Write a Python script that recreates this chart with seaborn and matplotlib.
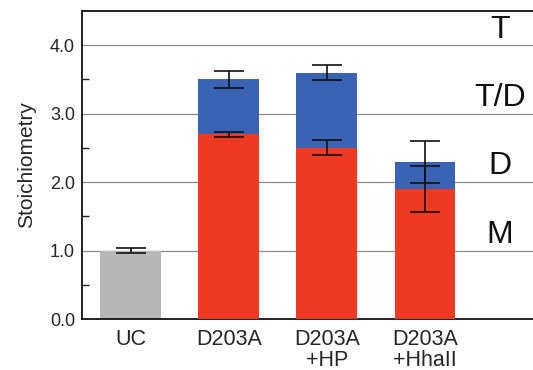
import numpy as np
import pandas as pd
import matplotlib
matplotlib.use("Agg")
import matplotlib.pyplot as plt
import seaborn as sns

# values
CATEGORIES   = ["UC", "D203A", "D203A\n+HP", "D203A\n+HhaII"]
TOTAL        = [1.00, 3.50, 3.60, 2.29]     # top of stacked bar (blue / grey)
TOTAL_ERR    = [0.04, 0.12, 0.11, 0.31]
LOWER        = [np.nan, 2.70, 2.50, 1.90]   # red part
LOWER_ERR    = [np.nan, 0.035, 0.11, 0.33]
STATE_LABELS = ["M", "D", "T/D", "T"]
STATE_LEVELS = [1.0, 2.0, 3.0, 4.0]

GREY = "#b7b7b7"
RED  = "#ee3a22"
BLUE = "#3a63b3"

sns.set_theme(style="white")
plt.rcParams["font.family"] = ["Liberation Sans", "DejaVu Sans"]

df = pd.DataFrame({"cat": CATEGORIES, "total": TOTAL, "lower": LOWER})

fig = plt.figure(figsize=(5.33, 3.70), dpi=100)
ax = fig.add_axes([82 / 533, 51 / 370, 451 / 533, 308 / 370])

for y in STATE_LEVELS:
    ax.axhline(y, color="#8a8a8a", lw=0.9, zorder=0)

sns.barplot(data=df, x="cat", y="total", hue="cat", legend=False,
            palette=[GREY, BLUE, BLUE, BLUE], width=0.62, saturation=1,
            linewidth=0, ax=ax, zorder=2)
sns.barplot(data=df, x="cat", y="lower", hue="cat", legend=False,
            palette=[GREY, RED, RED, RED], width=0.62, saturation=1,
            linewidth=0, ax=ax, zorder=3)

pos = np.arange(len(CATEGORIES))
ax.errorbar(pos, TOTAL, yerr=TOTAL_ERR, fmt="none", ecolor="#111111",
            elinewidth=1.2, capsize=11, capthick=1.2, zorder=5)
ax.errorbar(pos, LOWER, yerr=LOWER_ERR, fmt="none", ecolor="#111111",
            elinewidth=1.2, capsize=11, capthick=1.2, zorder=5)

for lab, lev in zip(STATE_LABELS, STATE_LEVELS):
    ax.text(3.76, lev + 0.01, lab, ha="center", va="bottom", fontsize=23,
            color="#111111", family=["Liberation Sans Narrow", "Liberation Sans"])

ax.set_xlim(-0.495, 4.1)
ax.set_ylim(0, 4.5)
ax.set_yticks([0, 1, 2, 3, 4])
ax.set_yticklabels(["0.0", "1.0", "2.0", "3.0", "4.0"])
ax.set_yticks(np.arange(0.5, 4.5, 1.0), minor=True)
ax.tick_params(axis="y", which="major", direction="in", length=6, width=1,
               labelsize=13, color="#222222", pad=5)
ax.tick_params(axis="y", which="minor", direction="in", length=5, width=1,
               color="#222222", left=True)
ax.tick_params(axis="x", length=0, labelsize=15.5, pad=7)
for t in ax.get_xticklabels():
    t.set_linespacing(1.0)
ax.set_xlabel("")
ax.set_ylabel("Stoichiometry", fontsize=15, labelpad=10)

for s in ["left", "bottom", "top"]:
    ax.spines[s].set_color("#111111")
    ax.spines[s].set_linewidth(1.3)
ax.spines["right"].set_visible(False)

fig.savefig("out.png", dpi=100)
